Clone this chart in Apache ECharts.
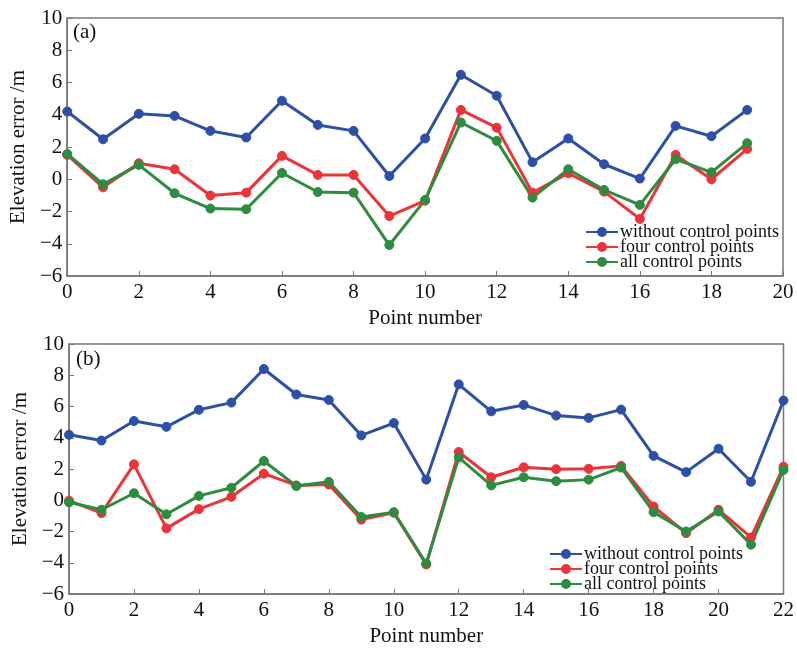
<!DOCTYPE html>
<html><head><meta charset="utf-8">
<script src="https://cdn.jsdelivr.net/npm/echarts@6/dist/echarts.min.js"></script>
<style>html,body{margin:0;padding:0;background:#fff}#c{width:797px;height:648px}</style>
</head><body><div id="c"></div>
<script>
const seriesNames = ['without control points', 'four control points', 'all control points'];
const xTicksA = [0, 2, 4, 6, 8, 10, 12, 14, 16, 18, 20];
const xTicksB = [0, 2, 4, 6, 8, 10, 12, 14, 16, 18, 20, 22];
const yTicks = [-6, -4, -2, 0, 2, 4, 6, 8, 10];

const pointsA = [0,1,2,3,4,5,6,7,8,9,10,11,12,13,14,15,16,17,18,19];
const blueA  = [4.2, 2.48, 4.06, 3.93, 3.0, 2.59, 4.87, 3.37, 3.0, 0.2, 2.53, 6.48, 5.18, 1.06, 2.53, 0.93, 0.04, 3.31, 2.67, 4.3];
const redA   = [1.51, -0.5, 0.99, 0.62, -1.01, -0.83, 1.45, 0.27, 0.27, -2.28, -1.33, 4.3, 3.2, -0.83, 0.37, -0.77, -2.46, 1.51, 0.0, 1.88];
const greenA = [1.57, -0.31, 0.89, -0.87, -1.82, -1.86, 0.39, -0.79, -0.83, -4.08, -1.28, 3.52, 2.38, -1.14, 0.62, -0.66, -1.59, 1.24, 0.43, 2.24];

const pointsB = [0,1,2,3,4,5,6,7,8,9,10,11,12,13,14,15,16,17,18,19,20,21,22];
const blueB  = [4.19, 3.82, 5.07, 4.7, 5.79, 6.25, 8.4, 6.77, 6.42, 4.15, 4.94, 1.32, 7.42, 5.69, 6.1, 5.42, 5.27, 5.8, 2.84, 1.8, 3.3, 1.18, 6.38];
const redB   = [-0.03, -0.82, 2.3, -1.8, -0.57, 0.22, 1.7, 0.95, 1.01, -1.24, -0.8, -4.11, 3.09, 1.47, 2.11, 1.99, 2.01, 2.2, -0.4, -2.11, -0.61, -2.38, 2.15];
const greenB = [-0.13, -0.61, 0.45, -0.9, 0.28, 0.8, 2.51, 0.91, 1.18, -1.07, -0.76, -4.05, 2.74, 0.95, 1.47, 1.22, 1.32, 2.09, -0.76, -2.0, -0.72, -2.84, 1.94];

const colors = ['#2C50A8', '#EC3338', '#2E8C3F'];
const font = 'Liberation Serif';

function pairs(xs, ys){ return xs.map((x,i)=>[x, ys[i]]); }

function xAxis(gi, ticks){
  return {
    type:'value', gridIndex:gi, min:ticks[0], max:ticks[ticks.length-1], interval:2,
    name:'Point number', nameLocation:'middle', nameGap:32,
    nameTextStyle:{fontFamily:font, fontSize:21, color:'#111'},
    axisLine:{show:true, onZero:false, lineStyle:{color:'#777', width:1.5}},
    axisTick:{show:true, inside:true, length:5, lineStyle:{color:'#777'}},
    axisLabel:{fontFamily:font, fontSize:21, color:'#111', margin:6},
    splitLine:{show:false}
  };
}
function yAxis(gi){
  return {
    type:'value', gridIndex:gi, min:yTicks[0], max:yTicks[yTicks.length-1], interval:2,
    name:'Elevation error /m', nameLocation:'middle', nameGap:38,
    nameTextStyle:{fontFamily:font, fontSize:21, color:'#111'},
    axisLine:{show:true, onZero:false, lineStyle:{color:'#777', width:1.5}},
    axisTick:{show:true, inside:true, length:5, lineStyle:{color:'#777'}},
    axisLabel:{fontFamily:font, fontSize:21, color:'#111', margin:5,
      formatter:v=> v<0 ? '\u2212'+Math.abs(v) : String(v)},
    splitLine:{show:false}
  };
}
function line(name, data, ci, xi){
  return {
    name, type:'line', xAxisIndex:xi, yAxisIndex:xi, data,
    symbol:'circle', symbolSize:9, showSymbol:true,
    lineStyle:{color:colors[ci], width:3},
    itemStyle:{color:colors[ci], borderColor:colors[ci], borderWidth:1},
    emphasis:{disabled:true}, animation:false
  };
}
function legend(left, top){
  return {data:seriesNames, left, top, orient:'vertical', itemGap:-3, itemWidth:32, itemHeight:10,
    textStyle:{fontFamily:font, fontSize:18, color:'#111', padding:[0,0,0,-3]},
    padding:0, selectedMode:false};
}

const chart = echarts.init(document.getElementById('c'), null, {renderer:'canvas'});
chart.setOption({
  animation:false,
  backgroundColor:'#fff',
  grid:[
    {left:67, top:18, right:14, height:258, show:true, borderColor:'#777', borderWidth:1.5},
    {left:69, top:344, right:10, height:257, show:true, borderColor:'#777', borderWidth:1.5}
  ],
  xAxis:[xAxis(0, xTicksA), xAxis(1, xTicksB)],
  yAxis:[yAxis(0), yAxis(1)],
  legend:[legend(585, 223), legend(549, 545)],
  graphic:[
    {type:'text', left:73, top:22, style:{text:'(a)', font:'21px "Liberation Serif"', fill:'#111'}},
    {type:'text', left:76, top:349, style:{text:'(b)', font:'21px "Liberation Serif"', fill:'#111'}}
  ],
  series:[
    line(seriesNames[0], pairs(pointsA, blueA), 0, 0),
    line(seriesNames[1], pairs(pointsA, redA), 1, 0),
    line(seriesNames[2], pairs(pointsA, greenA), 2, 0),
    line(seriesNames[0], pairs(pointsB, blueB), 0, 1),
    line(seriesNames[1], pairs(pointsB, redB), 1, 1),
    line(seriesNames[2], pairs(pointsB, greenB), 2, 1)
  ]
});
</script></body></html>
